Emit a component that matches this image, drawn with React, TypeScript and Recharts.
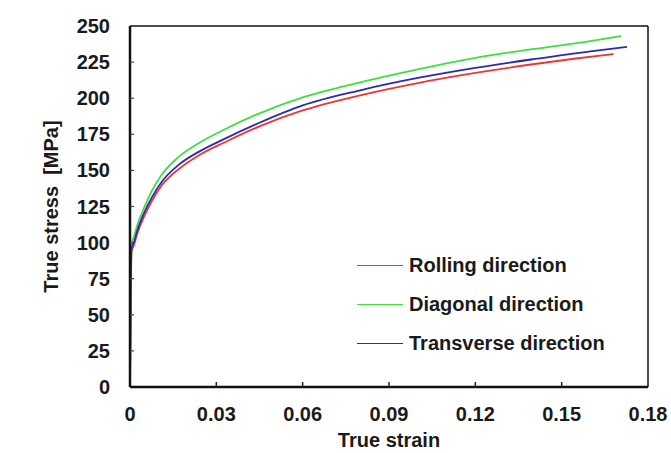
import { LineChart, Line, XAxis, YAxis, Legend, ReferenceLine } from 'recharts'

// true strain / true stress [MPa]
const rollingStrain = [0, 0.0005, 0.0015, 0.0025, 0.005, 0.0075, 0.011, 0.017, 0.024, 0.033, 0.045, 0.06, 0.08, 0.1, 0.12, 0.14, 0.155, 0.168]
const rollingStress = [0, 93, 99, 106, 118.5, 128.5, 139.5, 151, 160.5, 169.5, 180.5, 191.5, 202, 210.5, 217.5, 223.5, 227.5, 230.6]

const diagonalStrain = [0, 0.0005, 0.0015, 0.0025, 0.005, 0.0075, 0.011, 0.017, 0.024, 0.033, 0.045, 0.06, 0.08, 0.1, 0.12, 0.14, 0.16, 0.1706]
const diagonalStress = [0, 98, 105, 112, 124.5, 135.5, 147, 159.5, 169, 178.5, 189.5, 200.5, 211, 220, 228, 234, 239.5, 243]

const transverseStrain = [0, 0.0005, 0.0015, 0.0025, 0.005, 0.0075, 0.011, 0.017, 0.024, 0.033, 0.045, 0.06, 0.08, 0.1, 0.12, 0.14, 0.16, 0.1727]
const transverseStress = [0, 95, 101, 108, 121, 131, 142, 154, 163, 172, 183, 195, 205.5, 214, 221, 227, 232.5, 235.5]

const xTicks = [0, 0.03, 0.06, 0.09, 0.12, 0.15, 0.18]
const yTicks = [0, 25, 50, 75, 100, 125, 150, 175, 200, 225, 250]

const toPoints = (xs: number[], ys: number[]) => xs.map((strain, i) => ({ strain, stress: ys[i] }))

const series = [
  { name: 'Rolling direction', color: '#ee3535', data: toPoints(rollingStrain, rollingStress) },
  { name: 'Diagonal direction', color: '#3fdf3f', data: toPoints(diagonalStrain, diagonalStress) },
  { name: 'Transverse direction', color: '#2a2ab4', data: toPoints(transverseStrain, transverseStress) }
]

const FONT = '"Liberation Sans", Arial, sans-serif'

const XTick = ({ x, y, payload }: any) => (
  <g>
    {payload.value !== 0 && payload.value !== 0.18 && (
      <line x1={x} x2={x} y1={y} y2={y - 5} stroke="#222" strokeWidth={1.5} />
    )}
    <text x={x} y={y + 27} textAnchor="middle" dominantBaseline="central"
      fontFamily={FONT} fontSize={20} fontWeight="bold" fill="#1a1a1a">
      {payload.value}
    </text>
  </g>
)

const YTick = ({ x, y, payload }: any) => (
  <g>
    {payload.value !== 0 && payload.value !== 250 && (
      <line x1={x} x2={x + 4} y1={y} y2={y} stroke="#444" strokeWidth={1.2} />
    )}
    <text x={x - 20} y={y} textAnchor="end" dominantBaseline="central"
      fontFamily={FONT} fontSize={20} fontWeight="bold" fill="#1a1a1a">
      {payload.value}
    </text>
  </g>
)

// keep the legend in series order (recharts sorts it by name otherwise)
const LegendBox = ({ payload }: any) => {
  const order = series.map((s) => s.name)
  const items = [...(payload || [])].sort((a: any, b: any) => order.indexOf(a.value) - order.indexOf(b.value))
  return (
    <div style={{ fontFamily: FONT, fontSize: 20, fontWeight: 'bold', color: '#1a1a1a' }}>
      {items.map((entry: any) => (
        <div key={entry.value} style={{ display: 'flex', alignItems: 'center', height: 39 }}>
          <div style={{ width: 46, height: 1.5, background: entry.color, marginRight: 6 }} />
          <span>{entry.value}</span>
        </div>
      ))}
    </div>
  )
}

const App = () => {
  return (
    <div style={{ position: 'absolute', left: 0, top: 0, width: 671, height: 453, background: '#fff' }}>
      <LineChart width={671} height={453} margin={{ top: 26, right: 23, left: 0, bottom: 0 }}>
        <XAxis
          type="number"
          dataKey="strain"
          domain={[0, 0.18]}
          ticks={xTicks}
          height={66}
          tickSize={0}
          tickMargin={0}
          tick={<XTick />}
          axisLine={{ stroke: '#111', strokeWidth: 2.5 }}
          allowDataOverflow
          label={({ viewBox }: any) => (
            <text x={viewBox.x + viewBox.width / 2} y={viewBox.y + 53} textAnchor="middle"
              dominantBaseline="central" fontFamily={FONT} fontSize={20} fontWeight="bold" fill="#1a1a1a">
              True strain
            </text>
          )}
        />
        <YAxis
          type="number"
          domain={[0, 250]}
          ticks={yTicks}
          width={130}
          tickSize={0}
          tickMargin={0}
          tick={<YTick />}
          axisLine={{ stroke: '#111', strokeWidth: 2.5 }}
          allowDataOverflow
          label={({ viewBox }: any) => {
            const cy = viewBox.y + viewBox.height / 2
            return (
              <text x={51} y={cy} transform={`rotate(-90 51 ${cy})`} textAnchor="middle"
                dominantBaseline="central" fontFamily={FONT} fontSize={20} fontWeight="bold" fill="#1a1a1a">
                {'True stress\u00a0\u00a0[MPa]'}
              </text>
            )
          }}
        />
        <ReferenceLine y={250} stroke="#111" strokeWidth={1.5} />
        <ReferenceLine x={0.18} stroke="#111" strokeWidth={1.5} />
        <Legend
          layout="vertical"
          align="center"
          verticalAlign="middle"
          content={<LegendBox />}
          wrapperStyle={{ left: 357, top: 246, width: 'auto' }}
        />
        {series.map((s) => (
          <Line
            key={s.name}
            data={s.data}
            dataKey="stress"
            name={s.name}
            type="monotone"
            stroke={s.color}
            strokeWidth={1.8}
            dot={false}
            isAnimationActive={false}
          />
        ))}
      </LineChart>
    </div>
  )
}

export default App
